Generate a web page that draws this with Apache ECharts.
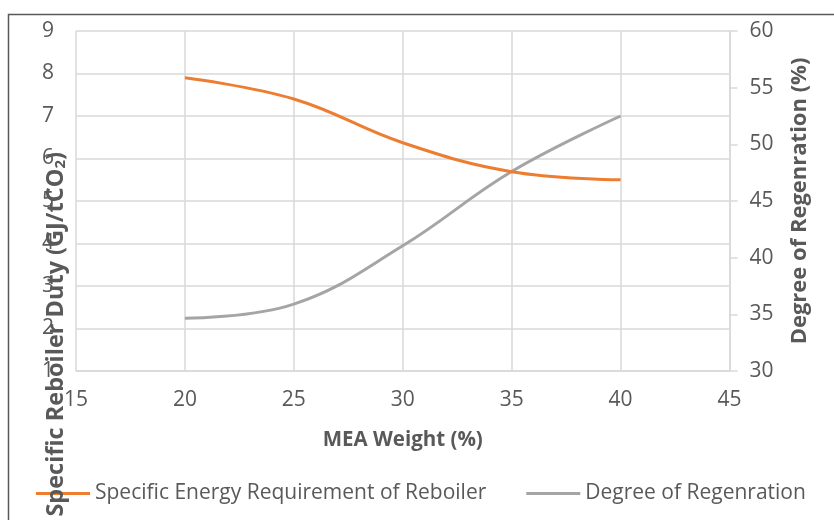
<!DOCTYPE html>
<html>
<head>
<meta charset="utf-8">
<script src="https://cdn.jsdelivr.net/npm/echarts@6/dist/echarts.min.js"></script>
<style>
  html, body { margin: 0; padding: 0; background: #fff; }
  #chart { width: 834px; height: 520px; }
</style>
</head>
<body>
<div id="chart"></div>
<script>
// MEA concentration (wt %)
const meaWeight = [20, 25, 30, 35, 40];
// Specific reboiler duty, GJ per tonne CO2 (left axis)
const reboilerDuty = [7.9, 7.4, 6.37, 5.69, 5.5];
// Degree of regeneration, % (right axis)
const regeneration = [34.65, 35.9, 41.05, 47.6, 52.5];

const seriesNames = ['Specific Energy Requirement of Reboiler', 'Degree of Regenration'];
const FONT = '"Open Sans", sans-serif';
const TEXT = '#595959';
const GRID = '#d9d9d9';

const chart = echarts.init(document.getElementById('chart'), null, { renderer: 'canvas' });

chart.setOption({
  animation: false,
  backgroundColor: '#fff',
  textStyle: { fontFamily: FONT },
  grid: { left: 76, right: 104.5, top: 31, bottom: 149, containLabel: false },
  legend: {
    left: 36,
    top: 483,
    padding: 0,
    itemGap: 40,
    itemWidth: 54,
    itemHeight: 3,
    icon: 'rect',
    textStyle: { color: TEXT, fontSize: 21, fontFamily: FONT },
    data: seriesNames
  },
  xAxis: {
    type: 'value',
    min: 15,
    max: 45,
    interval: 5,
    name: 'MEA Weight (%)',
    nameLocation: 'middle',
    nameGap: 59,
    nameTextStyle: { color: TEXT, fontSize: 20.5, fontWeight: 'bold', fontFamily: FONT },
    axisLine: { show: true, lineStyle: { color: GRID, width: 1.5 } },
    axisTick: { show: false },
    axisLabel: { color: TEXT, fontSize: 21, margin: 19, fontFamily: FONT },
    splitLine: { show: true, lineStyle: { color: GRID, width: 1.5 } }
  },
  yAxis: [
    {
      type: 'value',
      min: 1,
      max: 9,
      interval: 1,
      position: 'left',
      axisLine: { show: false },
      axisTick: { show: false },
      axisLabel: { color: TEXT, fontSize: 21, margin: 22, fontFamily: FONT },
      splitLine: { show: true, lineStyle: { color: GRID, width: 1.5 } }
    },
    {
      type: 'value',
      min: 30,
      max: 60,
      interval: 5,
      position: 'right',
      name: 'Degree of Regenration (%)',
      nameLocation: 'middle',
      nameRotate: 90,
      nameGap: 59,
      nameTextStyle: { color: TEXT, fontSize: 22, fontWeight: 'bold', fontFamily: FONT },
      axisLine: { show: true, lineStyle: { color: GRID, width: 1.5 } },
      axisTick: { show: true, length: 8, lineStyle: { color: GRID, width: 1.5 } },
      axisLabel: { color: TEXT, fontSize: 21, margin: 20, fontFamily: FONT },
      splitLine: { show: false }
    }
  ],
  graphic: [
    {
      // chart-area frame (top and left edges)
      type: 'polyline',
      silent: true,
      shape: { points: [[8.5, 530], [8.5, 14.5], [840, 14.5]] },
      style: { stroke: '#595959', lineWidth: 1.5, fill: null }
    },
    {
      type: 'text',
      silent: true,
      z: 100,
      x: 56,
      y: 152,
      rotation: Math.PI / 2,
      style: {
        text: '{t|Specific Reboiler Duty (GJ/tCO}{s|2}{t|)}',
        textAlign: 'right',
        textVerticalAlign: 'middle',
        rich: {
          t: { fontSize: 23.5, fontWeight: 'bold', fill: TEXT, fontFamily: FONT },
          s: { fontSize: 15, fontWeight: 'bold', fill: TEXT, fontFamily: FONT, verticalAlign: 'bottom', padding: [10, 0, 0, 0] }
        }
      }
    }
  ],
  series: [
    {
      name: seriesNames[0],
      type: 'line',
      yAxisIndex: 0,
      smooth: 0.4,
      symbol: 'none',
      color: '#ED7D31',
      lineStyle: { width: 3, color: '#ED7D31' },
      data: meaWeight.map((x, i) => [x, reboilerDuty[i]]),
      z: 3
    },
    {
      name: seriesNames[1],
      type: 'line',
      yAxisIndex: 1,
      smooth: 0.4,
      symbol: 'none',
      color: '#A5A5A5',
      lineStyle: { width: 3, color: '#A5A5A5' },
      data: meaWeight.map((x, i) => [x, regeneration[i]]),
      z: 2
    }
  ]
});
</script>
</body>
</html>
